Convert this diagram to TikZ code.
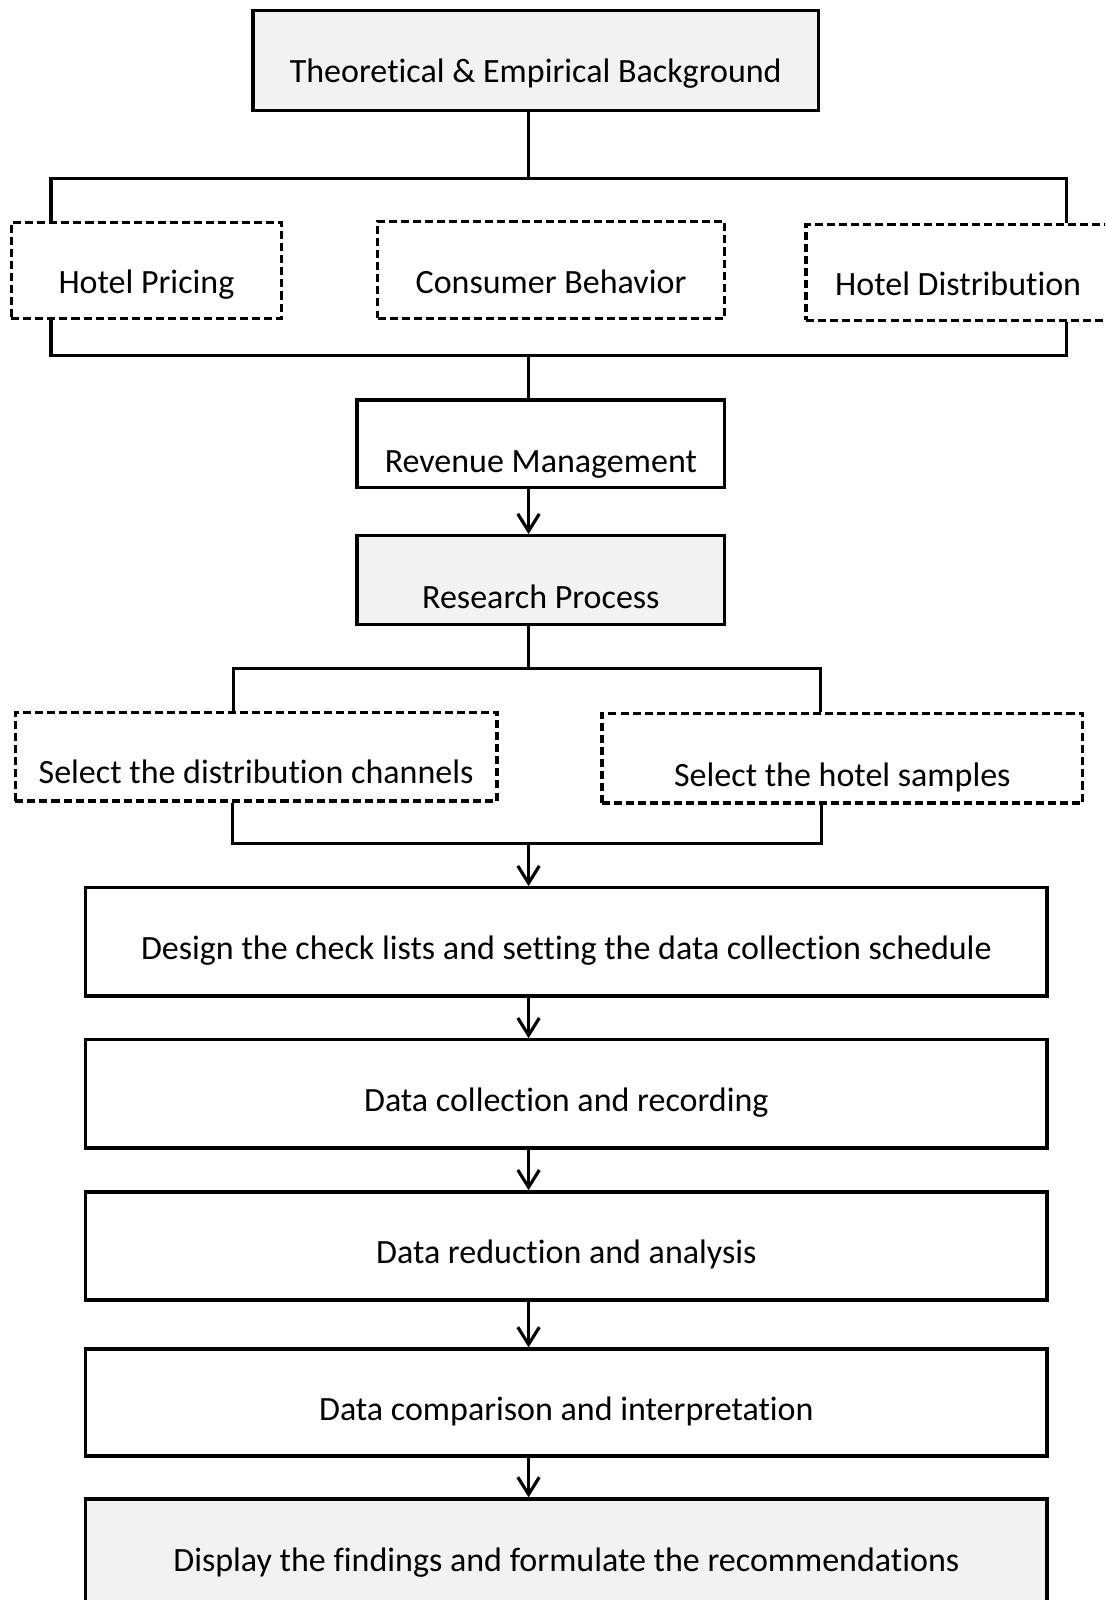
\documentclass[tikz,border=0pt]{standalone}
\usepackage{fontspec}
\setmainfont{Carlito}[Ligatures=NoCommon]
\usetikzlibrary{arrows.meta}
\def\unit{0.025cm}
\colorlet{box edge}{black}
\definecolor{box area}{HTML}{F2F2F2}
\tikzset{
  outline/.style={draw=box edge, line width=2.3pt, inner sep=0pt,
    font=\fontsize{23.7}{28}\selectfont, text depth=5.9pt},
  filled/.style={outline, fill=box area},
  broken/.style={outline, dash pattern=on 5.6pt off 2.8pt},
  low/.style={text height=#1},
  link/.style={line width=2.2pt},
  flow/.style={link, -{Straight Barb[length=12pt,width=15pt]}}
}

\begin{document}
\begin{tikzpicture}[x=\unit, y=-\unit]
    \useasboundingbox (0,0) rectangle (1083,1568);
    \clip (0,0) rectangle (1083,1568);
    % background
    \node[filled, low=36.7pt, minimum width=554*\unit, minimum height=98*\unit] (bg) at (525,59) {Theoretical \& Empirical Background};
    \node[broken, low=38.1pt, minimum width=265*\unit, minimum height=94*\unit] (hp) at (143.5,265) {Hotel Pricing};
    \node[broken, low=38.1pt, minimum width=340*\unit, minimum height=95*\unit] (cb) at (540,264.5) {Consumer Behavior};
    \node[broken, low=38.1pt, minimum width=298*\unit, minimum height=94*\unit] (hd) at (939,267) {Hotel Distribution};
    \node[outline, low=45.2pt, minimum width=360*\unit, minimum height=86*\unit] (rm) at (530,435) {Revenue Management};
    \node[filled, low=45.2pt, minimum width=360*\unit, minimum height=87*\unit] (rp) at (530,568.5) {Research Process};
    % research process
    \node[broken, low=43.8pt, minimum width=472*\unit, minimum height=87*\unit] (sdc) at (251,741.5) {Select the distribution channels};
    \node[broken, low=45.2pt, minimum width=471*\unit, minimum height=88*\unit] (shs) at (825.5,743) {Select the hotel samples};
    \node[outline, low=31pt, minimum width=942*\unit, minimum height=106*\unit] (dcl) at (555,923) {Design the check lists and setting the data collection schedule};
    \node[outline, low=31pt, minimum width=942*\unit, minimum height=106*\unit] (dcr) at (555,1072) {Data collection and recording};
    \node[outline, low=31pt, minimum width=942*\unit, minimum height=106*\unit] (dra) at (555,1221) {Data reduction and analysis};
    \node[outline, low=31pt, minimum width=942*\unit, minimum height=105*\unit] (dci) at (555,1374.5) {Data comparison and interpretation};
    \node[filled, low=31pt, minimum width=942*\unit, minimum height=106*\unit] (dfr) at (555,1522) {Display the findings and formulate the recommendations};

    % brackets
    \coordinate (top l) at (50,175);
    \coordinate (top r) at (1045,175);
    \coordinate (top m) at (518,175);
    \coordinate (bot l) at (50,348);
    \coordinate (bot r) at (1045,348);
    \coordinate (bot m) at (518,348);
    \draw[link] (bg.south -| top m) -- (top m);
    \draw[link] (hp.north -| top l) -- (top l) -- (top r) -- (hd.north -| top r);
    \draw[link] (hp.south -| bot l) -- (bot l) -- (bot r) -- (hd.south -| bot r);
    \draw[link] (bot m) -- (rm.north -| bot m);
    \draw[flow] (rm.south -| bot m) -- (rp.north -| bot m);

    \coordinate (up l) at (229,655);
    \coordinate (up r) at (804,655);
    \coordinate (up m) at (518,655);
    \coordinate (dn l) at (228,827);
    \coordinate (dn r) at (805,827);
    \coordinate (dn m) at (518,827);
    \draw[link] (rp.south -| up m) -- (up m);
    \draw[link] (sdc.north -| up l) -- (up l) -- (up r) -- (shs.north -| up r);
    \draw[link] (sdc.south -| dn l) -- (dn l) -- (dn r) -- (shs.south -| dn r);
    \draw[flow] (dn m) -- (dcl.north -| dn m);
    \foreach \a/\b in {dcl/dcr, dcr/dra, dra/dci, dci/dfr}
      \draw[flow] (\a.south -| dn m) -- (\b.north -| dn m);
\end{tikzpicture}
\end{document}
